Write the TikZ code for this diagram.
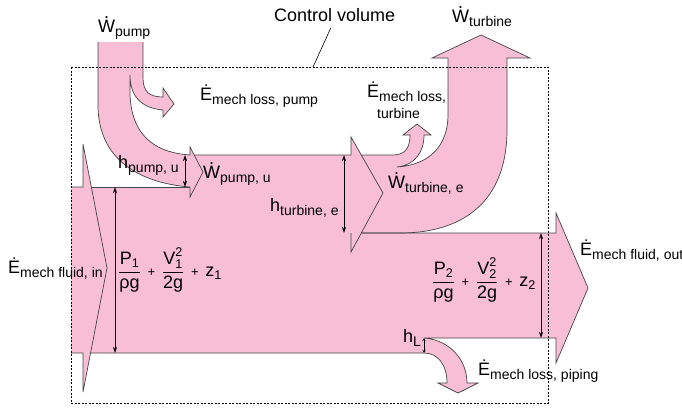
\documentclass[tikz,border=0pt]{standalone}
\usepackage{amsmath}
\usepackage{fontspec}
\setmainfont{Liberation Sans}
\usetikzlibrary{arrows.meta}

\definecolor{flowpink}{RGB}{247,190,214}
\definecolor{edgegray}{RGB}{70,70,70}

\newcommand\dt[1]{\leavevmode{\setbox0=\hbox{#1}\rlap{\hbox to\wd0{\hss\raisebox{\dimexpr\ht0+0.8pt\relax}{.}\hss}}\box0}}
\newcommand\sub[1]{\raisebox{-4pt}{\fontsize{14}{14}\selectfont #1}}
\newcommand\pl{\mskip7mu\text{\fontsize{13}{13}\selectfont +}\mskip7mu}
\newcommand\bern[1]{$\dfrac{\text{P}_{\text{#1}}}{\text{ρg}}\pl\dfrac{\text{V}^{\text{2}}_{\text{#1}}}{\text{2g}}\pl\text{z}_{\text{#1}}$}

\begin{document}
\begin{tikzpicture}[x=1pt, y=-1pt,
    font=\fontsize{18}{21}\selectfont,
    flow/.style={fill=flowpink},
    edge/.style={draw=edgegray, line width=0.7pt},
    dim/.style={{Stealth[length=6pt,width=4pt]}-{Stealth[length=6pt,width=4pt]}, line width=0.8pt},
    dimsm/.style={{Stealth[length=3pt,width=3pt]}-{Stealth[length=3pt,width=3pt]}, line width=0.5pt},
    lbl/.style={anchor=base west, inner sep=0pt},
    cv/.style={line width=0.8pt, dash pattern=on 2pt off 1.5pt},
    lead/.style={line width=0.6pt},
]
    \useasboundingbox (0,0) rectangle (682,407);

    % ---------- energy flow (one pink region) ----------
    \fill[flow]
        (98,42) -- (143,42) -- (143,78) .. controls (143,92) and (150,97) .. (163,97)
        -- (163,88) -- (174,104) -- (163,117) -- (163,110)
        .. controls (140,108) and (130,95) .. (130,75)
        -- (130,95) .. controls (132,140) and (160,153) .. (190,155)
        -- (190,147) -- (194.2,155) -- (351,155) -- (351,137) -- (361.3,155) -- (393,155)
        .. controls (405,155) and (410,148) .. (410,135) -- (403,135) -- (417,124) -- (431,135) -- (424,135)
        .. controls (424,152) and (415,165) .. (397,167)
        .. controls (430,165) and (448,145) .. (448,115) -- (448,58) -- (432,58) -- (481,35) -- (530,58) -- (507,58)
        -- (507,130) .. controls (507,195) and (470,233) .. (400,233)
        -- (556,233) -- (556,213) -- (588,288) -- (556,363) -- (556,338) -- (424,338)
        .. controls (450,340) and (467,360) .. (467,383) -- (478,383) -- (458,393) -- (438,383) -- (447,383)
        .. controls (447,365) and (438,353) .. (424,353)
        -- (90.5,353) -- (83,392) -- (83,353) -- (71,353) -- (71,187) -- (83,187) -- (83,144) -- (91.3,187)
        -- (190,187) .. controls (140,183) and (98,160) .. (98,105) -- cycle;

    % ---------- outlines ----------
    % pump
    \draw[edge] (98,42) -- (98,105) .. controls (98,160) and (140,183) .. (190,187);
    \draw[edge] (143,42) -- (143,78) .. controls (143,92) and (150,97) .. (163,97)
        -- (163,88) -- (174,104) -- (163,117) -- (163,110)
        .. controls (140,108) and (130,95) .. (130,75)
        -- (130,95) .. controls (132,140) and (160,153) .. (190,155)
        -- (190,147) -- (203,172) -- (190,197) -- (190,187);
    % inlet
    \draw[edge] (71,187) -- (83,187) -- (83,144) -- (107,268) -- (83,392) -- (83,353) -- (71,353);
    \draw[edge] (91.3,187) -- (190,187);
    % turbine
    \draw[edge] (194.2,155) -- (351,155) -- (351,137) -- (383,193) -- (351,252) -- (351,233);
    \draw[edge] (361.3,155) -- (393,155)
        .. controls (405,155) and (410,148) .. (410,135) -- (403,135) -- (417,124) -- (431,135) -- (424,135)
        .. controls (424,152) and (415,165) .. (397,167)
        .. controls (430,165) and (448,145) .. (448,115) -- (448,58) -- (432,58) -- (481,35) -- (530,58) -- (507,58)
        -- (507,130) .. controls (507,195) and (470,233) .. (400,233) -- (361.3,233);
    % outlet and piping loss
    \draw[edge] (361.3,233) -- (556,233) -- (556,213) -- (588,288) -- (556,363) -- (556,338) -- (424,338)
        .. controls (450,340) and (467,360) .. (467,383) -- (478,383) -- (458,393) -- (438,383) -- (447,383)
        .. controls (447,365) and (438,353) .. (424,353) -- (90.5,353);

    % ---------- control volume ----------
    \draw[cv] (71,67) rectangle (548,403);
    \node[lbl] (cvl) at (274,21.7) {Control volume};
    \coordinate (cvpt) at (313,67);
    \draw[lead] ([shift={(-4,6)}]cvl.south) -- (cvpt);

    % ---------- heads ----------
    \coordinate (in top) at (115,187);   \coordinate (in bot) at (115,353);
    \coordinate (pu top) at (185,155);   \coordinate (pu bot) at (185,187);
    \coordinate (tu top) at (344,155);   \coordinate (tu bot) at (344,233);
    \coordinate (out top) at (541,233);  \coordinate (out bot) at (541,338);
    \coordinate (hl top) at (424,338);   \coordinate (hl bot) at (424,353);
    \draw[dim] (in top) -- (in bot);
    \draw[dim] (pu top) -- (pu bot);
    \draw[dim] (tu top) -- (tu bot);
    \draw[dim] (out top) -- (out bot);
    \draw[dimsm] (hl top) -- (hl bot);

    % ---------- labels ----------
    \node[lbl] (wpump) at (98,32) {\dt{W}\sub{pump}};
    \node[lbl] (losspump) at (200,100) {Ė\sub{mech loss, pump}};
    \node[lbl] (hpump) at (118,168) {h\sub{pump, u}};
    \node[lbl] (wpumpu) at (203,178) {\dt{W}\sub{pump, u}};
    \node[lbl] (hturb) at (270,211) {h\sub{turbine, e}};
    \node[lbl] (wturbe) at (388,188) {\dt{W}\sub{turbine, e}};
    \node[anchor=north west, inner sep=0pt, align=left] (lossturb) at (367,82)
        {Ė\sub{mech loss,}\\\hspace*{10pt}\fontsize{14}{14}\selectfont turbine};
    \node[lbl] (wturb) at (452,22) {\dt{W}\sub{turbine}};
    \node[lbl] (ein) at (8,273) {Ė\sub{mech fluid, in}};
    \node[lbl] (eout) at (580,255) {Ė\sub{mech fluid, out}};
    \node[lbl] (losspipe) at (478,375) {Ė\sub{mech loss, piping}};
    \node[lbl] (hl) at (403,342) {h\sub{L}};
    \node[anchor=west, inner sep=0pt] (bern1) at (118,270) {\bern{1}};
    \node[anchor=west, inner sep=0pt] (bern2) at (432,280) {\bern{2}};
\end{tikzpicture}
\end{document}
